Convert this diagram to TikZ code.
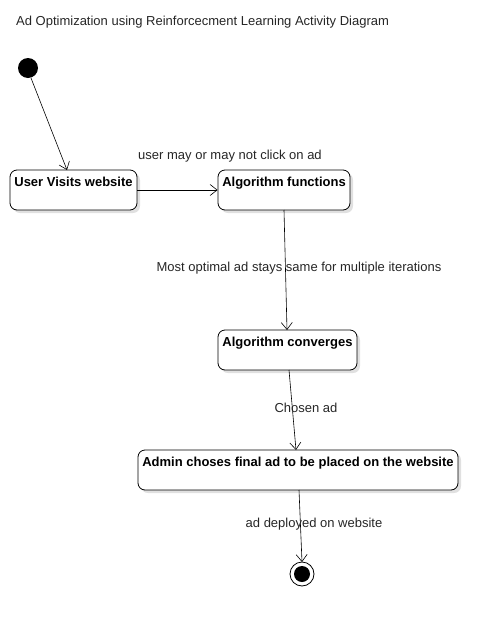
\documentclass[tikz,border=0pt]{standalone}
\usepackage{fontspec}
\setmainfont{Liberation Sans}
\usetikzlibrary{arrows.meta,shadows}
\begin{document}
\begin{tikzpicture}[x=1pt,y=-1pt,
  act/.style={draw, line width=0.8pt, rounded corners=7pt, fill=white,
    drop shadow={shadow xshift=3pt, shadow yshift=-3pt, fill=black!12, opacity=1},
    font=\fontsize{13}{15}\selectfont\bfseries, inner xsep=3pt, inner ysep=3pt,
    text height=13pt, text depth=21pt, minimum height=40pt},
  flow/.style={draw, line width=0.6pt, -{Straight Barb[length=7pt,width=11pt,line width=0.6pt]}},
  lbl/.style={font=\fontsize{13}{15}\selectfont, text=black!85, inner sep=1pt}]
\useasboundingbox (0,0) rectangle (498,627);
\node[anchor=west, font=\fontsize{13}{15}\selectfont, text=black!85, inner sep=0pt] (title) at (16,22) {Ad Optimization using Reinforcecment Learning Activity Diagram};
\fill (28,68) circle (10pt);
\coordinate (init) at (28,68);
\node[act, minimum width=127pt] (uv) at (73.5,190) {User Visits website};
\node[act, minimum width=132pt] (af) at (284,190) {Algorithm functions};
\node[act, minimum width=139pt] (ac) at (287.5,350) {Algorithm converges};
\node[act, minimum width=320pt] (ad) at (298,470) {Admin choses final ad to be placed on the website};
\coordinate (fin) at (302,574);
\draw[line width=0.8pt, fill=white] (fin) circle (12pt);
\fill (fin) circle (8pt);
\draw[flow] (31,78) -- (67,170);
\draw[flow] (uv.east) -- (af.west);
\node[lbl] (l1) at (230,156) {user may or may not click on ad};
\draw[flow] (284,210) -- (287,330);
\node[lbl] (l2) at (299,268) {Most optimal ad stays same for multiple iterations};
\draw[flow] (289,370) -- (296,450);
\node[lbl] (l3) at (306,408) {Chosen ad};
\draw[flow] (299,490) -- (302,562);
\node[lbl] (l4) at (314,524) {ad deployed on website};
\end{tikzpicture}
\end{document}
